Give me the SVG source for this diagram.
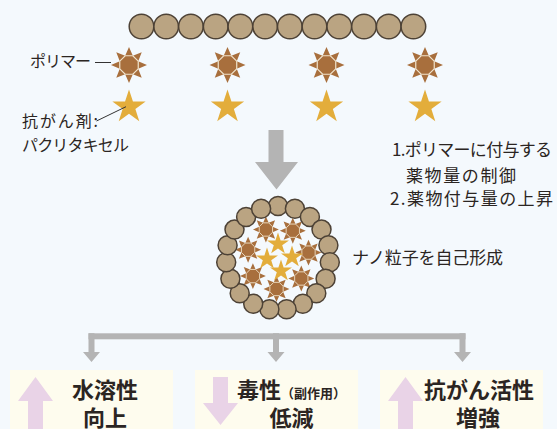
<svg xmlns="http://www.w3.org/2000/svg" xmlns:xlink="http://www.w3.org/1999/xlink" width="557" height="429" viewBox="0 0 557 429">
  <style>
    .bg { fill: #f4f9fd; }
    .bead { fill: #baa482; stroke: #4d4236; stroke-width: 1.5; }
    .ray { fill: #a86f3d; }
    .core { fill: #a86f3d; stroke: #f1e4cc; stroke-width: 1.2; }
    .drug { fill: #e3ad3b; }
    .gray { fill: #b4b4b4; }
    .box { fill: #fefcee; }
    .pink { fill: #e9d3e7; }
    .lead { stroke: #333; stroke-width: 1; fill: none; }
    text { font-family: "Noto Sans CJK JP", "Noto Sans", sans-serif; fill: #2b2522; }
    .lbl { font-size: 16px; }
    .note { font-size: 17px; }
    .res { font-size: 22px; font-weight: 700; text-anchor: middle; }
    .sub { font-size: 13px; font-weight: 700; }
  </style>
  <defs>
    <!-- polymer unit: brown octagon core with eight rays -->
    <g id="sun">
      <path class="ray" d="M18,0 L9.24,3.83 L12.73,12.73 L3.83,9.24 L0,18 L-3.83,9.24 L-12.73,12.73 L-9.24,3.83 L-18,0 L-9.24,-3.83 L-12.73,-12.73 L-3.83,-9.24 L0,-18 L3.83,-9.24 L12.73,-12.73 L9.24,-3.83 Z"/>
      <polygon class="core" points="9.24,3.83 3.83,9.24 -3.83,9.24 -9.24,3.83 -9.24,-3.83 -3.83,-9.24 3.83,-9.24 9.24,-3.83"/>
    </g>
    <!-- drug molecule -->
    <path id="star" class="drug" d="M0,-17.5 L3.94,-5.42 L16.64,-5.41 L6.37,2.07 L10.29,14.16 L0,6.7 L-10.29,14.16 L-6.37,2.07 L-16.64,-5.41 L-3.94,-5.42 Z"/>
  </defs>

  <rect class="bg" x="0" y="0" width="557" height="429"/>

  <!-- polymer chain -->
  <g id="chain">
    <circle class="bead" cx="141.5" cy="26.5" r="12.3"/>
    <circle class="bead" cx="166.2" cy="26.5" r="12.3"/>
    <circle class="bead" cx="190.9" cy="26.5" r="12.3"/>
    <circle class="bead" cx="215.7" cy="26.5" r="12.3"/>
    <circle class="bead" cx="240.4" cy="26.5" r="12.3"/>
    <circle class="bead" cx="265.1" cy="26.5" r="12.3"/>
    <circle class="bead" cx="289.8" cy="26.5" r="12.3"/>
    <circle class="bead" cx="314.5" cy="26.5" r="12.3"/>
    <circle class="bead" cx="339.3" cy="26.5" r="12.3"/>
    <circle class="bead" cx="364.0" cy="26.5" r="12.3"/>
    <circle class="bead" cx="388.7" cy="26.5" r="12.3"/>
    <circle class="bead" cx="413.4" cy="26.5" r="12.3"/>
  </g>

  <!-- polymer units and drug molecules -->
  <g id="polymers">
    <use xlink:href="#sun" x="129" y="65"/>
    <use xlink:href="#sun" x="227.5" y="65"/>
    <use xlink:href="#sun" x="326.5" y="65"/>
    <use xlink:href="#sun" x="425" y="65"/>
  </g>
  <g id="drugs">
    <use xlink:href="#star" x="129" y="107"/>
    <use xlink:href="#star" x="227.5" y="107"/>
    <use xlink:href="#star" x="326.5" y="107"/>
    <use xlink:href="#star" x="425" y="107"/>
  </g>

  <!-- labels on the left -->
  <g id="label-polymer">
    <text class="lbl" x="30" y="67" textLength="61">ポリマー</text>
  </g>
  <g id="label-drug">
    <text class="lbl" x="22" y="127" textLength="76">抗がん剤:</text>
    <text class="lbl" x="22" y="150.5" textLength="107">パクリタキセル</text>
  </g>

  <!-- notes on the right -->
  <g id="note-control">
    <text class="note" x="392" y="155.5" textLength="160">1.ポリマーに付与する</text>
    <text class="note" x="406" y="181.5" textLength="110">薬物量の制御</text>
    <text class="note" x="390" y="204.5" textLength="163">2.薬物付与量の上昇</text>
  </g>
  <g id="note-self">
    <text class="note" x="352" y="264" textLength="151">ナノ粒子を自己形成</text>
  </g>

  <!-- self-assembled nanoparticle -->
  <g id="nanoparticle">
    <g id="np-core">
      <use xlink:href="#sun" transform="translate(265.9,229.5) scale(0.72)"/>
      <use xlink:href="#sun" transform="translate(292.8,230.7) scale(0.72)"/>
      <use xlink:href="#sun" transform="translate(308.5,252.6) scale(0.72)"/>
      <use xlink:href="#sun" transform="translate(301.3,278.5) scale(0.72)"/>
      <use xlink:href="#sun" transform="translate(276.5,289) scale(0.72)"/>
      <use xlink:href="#sun" transform="translate(252.9,276.1) scale(0.72)"/>
      <use xlink:href="#sun" transform="translate(248.1,249.7) scale(0.72)"/>
      <use xlink:href="#star" transform="translate(278,244) scale(0.66)"/>
      <use xlink:href="#star" transform="translate(267,259) scale(0.66)"/>
      <use xlink:href="#star" transform="translate(292,257) scale(0.66)"/>
      <use xlink:href="#star" transform="translate(281,271) scale(0.66)"/>
    </g>
    <g id="np-shell">
      <circle class="bead" cx="278.0" cy="206.0" r="9.5"/>
      <circle class="bead" cx="294.9" cy="208.8" r="9.5"/>
      <circle class="bead" cx="309.9" cy="217.0" r="9.5"/>
      <circle class="bead" cx="321.5" cy="229.6" r="9.5"/>
      <circle class="bead" cx="328.4" cy="245.2" r="9.5"/>
      <circle class="bead" cx="329.8" cy="262.3" r="9.5"/>
      <circle class="bead" cx="325.6" cy="278.8" r="9.5"/>
      <circle class="bead" cx="316.3" cy="293.2" r="9.5"/>
      <circle class="bead" cx="302.8" cy="303.7" r="9.5"/>
      <circle class="bead" cx="286.6" cy="309.3" r="9.5"/>
      <circle class="bead" cx="269.4" cy="309.3" r="9.5"/>
      <circle class="bead" cx="253.2" cy="303.7" r="9.5"/>
      <circle class="bead" cx="239.7" cy="293.2" r="9.5"/>
      <circle class="bead" cx="230.4" cy="278.8" r="9.5"/>
      <circle class="bead" cx="226.2" cy="262.3" r="9.5"/>
      <circle class="bead" cx="227.6" cy="245.2" r="9.5"/>
      <circle class="bead" cx="234.5" cy="229.6" r="9.5"/>
      <circle class="bead" cx="246.1" cy="217.0" r="9.5"/>
      <circle class="bead" cx="261.1" cy="208.8" r="9.5"/>
    </g>
  </g>

  <!-- outcome boxes -->
  <g id="outcome-solubility">
    <rect class="box" x="10" y="370" width="163" height="70"/>
    <polygon class="pink" points="35.5,377 53,401 43,401 43,429 28,429 28,401 18,401"/>
    <text class="res" x="105" y="398">水溶性</text>
    <text class="res" x="105" y="426">向上</text>
  </g>
  <g id="outcome-toxicity">
    <rect class="box" x="195" y="370" width="163" height="70"/>
    <polygon class="pink" points="213,377 228,377 228,403 238,403 220.5,425 203,403 213,403"/>
    <text class="res" x="237" y="398" style="text-anchor:start">毒性<tspan class="sub">（副作用）</tspan></text>
    <text class="res" x="291.5" y="426">低減</text>
  </g>
  <g id="outcome-efficacy">
    <rect class="box" x="380" y="370" width="163" height="70"/>
    <polygon class="pink" points="405.5,377 423,401 413,401 413,429 398,429 398,401 388,401"/>
    <text class="res" x="479" y="398">抗がん活性</text>
    <text class="res" x="478" y="426">増強</text>
  </g>

  <!-- connectors -->
  <g id="connectors">
    <line class="lead" x1="95" y1="62.5" x2="111" y2="62.5"/>
    <line class="lead" x1="96.5" y1="121" x2="126" y2="106.7"/>
    <polygon class="gray" points="268.5,130 283.5,130 283.5,162 298,162 276.5,189.5 255,162 268.5,162"/>
    <rect class="gray" x="88.5" y="333.3" width="377" height="6"/>
    <polygon class="gray" points="88.5,333.3 94.5,333.3 94.5,352 100,352 91.5,362 83,352 88.5,352"/>
    <polygon class="gray" points="273,333.3 279,333.3 279,352 284.5,352 276,362 267.5,352 273,352"/>
    <polygon class="gray" points="459.5,333.3 465.5,333.3 465.5,352 471,352 462.5,362 454,352 459.5,352"/>
  </g>
</svg>
